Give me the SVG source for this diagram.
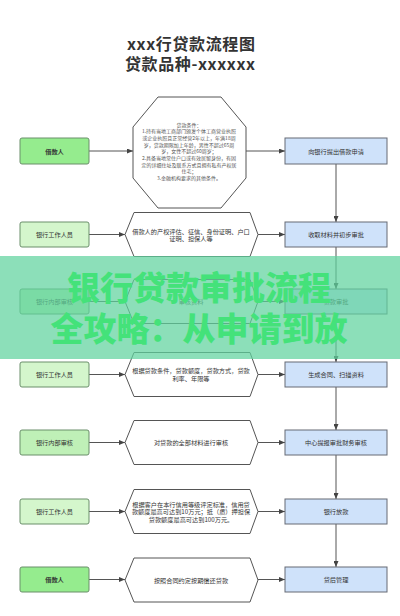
<svg xmlns="http://www.w3.org/2000/svg" xmlns:xlink="http://www.w3.org/1999/xlink" width="400" height="616" viewBox="0 0 400 616">
<style>
text{font-family:"Noto Sans CJK SC","Liberation Sans",sans-serif;}
.title{font-size:16px;font-weight:bold;fill:#333;text-anchor:middle;}
.lbl{font-size:6.2px;fill:#333;text-anchor:middle;dominant-baseline:central;}
.b{font-weight:bold;}
.small{font-size:5px;fill:#555;text-anchor:middle;dominant-baseline:central;}
.lbox{stroke:#6b8f6b;stroke-width:1;}
.g1{fill:#95ec8e;}
.g2{fill:#d4f6cc;}
.g3{fill:#bff0b7;}
.rbox{fill:#cfe2fa;stroke:#666a75;stroke-width:1;}
.shape{fill:#fff;stroke:#555;stroke-width:1;}
.con{stroke:#555;stroke-width:1;fill:none;marker-end:url(#arr);}
.wm{font-size:33px;font-weight:900;fill:#44e27a;text-anchor:middle;}
</style>
<defs>
<marker id="arr" markerWidth="6" markerHeight="5" refX="6" refY="2.5" orient="auto" markerUnits="userSpaceOnUse">
<path d="M0,0 L6,2.5 L0,5 z" fill="#444"/>
</marker>
<polygon id="hex" class="shape" points="125,0 134,-22 250,-22 258,0 250,22 134,22"/>
</defs>
<rect width="400" height="616" fill="#fff"/>

<g id="title">
<text class="title" x="191" y="50" textLength="128">xxx行贷款流程图</text>
<text class="title" x="190" y="70" textLength="130">贷款品种-xxxxxx</text>
</g>

<g id="connectors">
<line class="con" x1="89" y1="151" x2="133" y2="151"/>
<line class="con" x1="246" y1="151" x2="285" y2="151"/>
<line class="con" x1="89" y1="234.5" x2="125" y2="234.5"/>
<line class="con" x1="258" y1="234.5" x2="285" y2="234.5"/>
<line class="con" x1="89" y1="301.5" x2="125" y2="301.5"/>
<line class="con" x1="258" y1="301.5" x2="285" y2="301.5"/>
<line class="con" x1="89" y1="374.5" x2="125" y2="374.5"/>
<line class="con" x1="258" y1="374.5" x2="285" y2="374.5"/>
<line class="con" x1="89" y1="442.5" x2="125" y2="442.5"/>
<line class="con" x1="258" y1="442.5" x2="285" y2="442.5"/>
<line class="con" x1="89" y1="511.5" x2="125" y2="511.5"/>
<line class="con" x1="258" y1="511.5" x2="285" y2="511.5"/>
<line class="con" x1="89" y1="579.5" x2="125" y2="579.5"/>
<line class="con" x1="258" y1="579.5" x2="285" y2="579.5"/>
<line class="con" x1="336" y1="163" x2="336" y2="222"/>
<line class="con" x1="336" y1="247" x2="336" y2="289"/>
<line class="con" x1="336" y1="314" x2="336" y2="362"/>
<line class="con" x1="336" y1="387" x2="336" y2="430"/>
<line class="con" x1="336" y1="455" x2="336" y2="499"/>
<line class="con" x1="336" y1="524" x2="336" y2="567"/>
</g>

<!-- Row 1 -->
<g id="n-borrower1"><rect class="lbox g1" x="20" y="138" width="69" height="26" rx="2"/><text class="lbl b" x="54.5" y="151">借款人</text></g>
<g id="n-conditions">
<polygon class="shape" points="158,97 221,97 246,127 246,178 221,208 158,208 133,178 133,127"/>
<text class="small" x="189" y="124">贷款条件：</text>
<text class="small" x="189" y="130.7">1.持有当地工商部门颁发个体工商营业执照</text>
<text class="small" x="189" y="137.4">或企业执照且正常经营2年以上，年满18周</text>
<text class="small" x="189" y="144.1">岁，贷款期限加上年龄，男性不超过65周</text>
<text class="small" x="189" y="150.8">岁，女性不超过60周岁；</text>
<text class="small" x="189" y="157.5">2.具备当地常住户口或有效居留身份，有固</text>
<text class="small" x="189" y="164.2">定的详细住址及联系方式且拥有私有产权居</text>
<text class="small" x="189" y="170.9">住宅；</text>
<text class="small" x="189" y="177.6">3.金融机构要求的其他条件。</text>
</g>
<g id="n-apply"><rect class="rbox" x="285" y="138" width="102" height="26"/><text class="lbl" x="336" y="151">向银行提出借款申请</text></g>

<!-- Row 2 -->
<g id="n-staff1"><rect class="lbox g2" x="20" y="222" width="69" height="25" rx="2"/><text class="lbl" x="54.5" y="234.5">银行工作人员</text></g>
<g id="n-assess"><use xlink:href="#hex" y="234.5"/>
<text class="lbl" x="191" y="231">借款人的产权评估、征信、身份证明、户口</text>
<text class="lbl" x="191" y="238.5">证明、担保人等</text></g>
<g id="n-collect"><rect class="rbox" x="285" y="222" width="102" height="25"/><text class="lbl" x="336" y="234.5">收取材料并初步审批</text></g>

<!-- Row 3 -->
<g id="n-internal1"><rect class="lbox g3" x="20" y="289" width="69" height="25" rx="2"/><text class="lbl" x="54.5" y="301.5">银行内部审核</text></g>
<g id="n-review"><use xlink:href="#hex" y="301.5"/><text class="lbl" x="191" y="301.5">审核资料</text></g>
<g id="n-approve"><rect class="rbox" x="285" y="289" width="102" height="25"/><text class="lbl" x="336" y="301.5">贷款审批</text></g>

<!-- Row 4 -->
<g id="n-staff2"><rect class="lbox g2" x="20" y="362" width="69" height="25" rx="2"/><text class="lbl" x="54.5" y="374.5">银行工作人员</text></g>
<g id="n-terms"><use xlink:href="#hex" y="374.5"/>
<text class="lbl" x="191" y="370.5">根据贷款条件，贷款额度，贷款方式，贷款</text>
<text class="lbl" x="191" y="378">利率、年限等</text></g>
<g id="n-contract"><rect class="rbox" x="285" y="362" width="102" height="25"/><text class="lbl" x="336" y="374.5">生成合同、扫描资料</text></g>

<!-- Row 5 -->
<g id="n-internal2"><rect class="lbox g3" x="20" y="430" width="69" height="25" rx="2"/><text class="lbl" x="54.5" y="442.5">银行内部审核</text></g>
<g id="n-allreview"><use xlink:href="#hex" y="442.5"/><text class="lbl" x="191" y="442.5">对贷款的全部材料进行审核</text></g>
<g id="n-center"><rect class="rbox" x="285" y="430" width="102" height="25"/><text class="lbl" x="336" y="442.5">中心提报审批财务审核</text></g>

<!-- Row 6 -->
<g id="n-staff3"><rect class="lbox g2" x="20" y="499" width="69" height="25" rx="2"/><text class="lbl" x="54.5" y="511.5">银行工作人员</text></g>
<g id="n-limit"><use xlink:href="#hex" y="511.5"/>
<text class="lbl" x="191" y="504">根据客户在本行信用等级评定标准，信用贷</text>
<text class="lbl" x="191" y="511.5">款额度最高可达到10万元；抵（质）押担保</text>
<text class="lbl" x="191" y="519">贷款额度最高可达到100万元。</text></g>
<g id="n-loan"><rect class="rbox" x="285" y="499" width="102" height="25"/><text class="lbl" x="336" y="511.5">银行放款</text></g>

<!-- Row 7 -->
<g id="n-borrower2"><rect class="lbox g1" x="20" y="567" width="69" height="25" rx="2"/><text class="lbl b" x="54.5" y="579.5">借款人</text></g>
<g id="n-repay"><use xlink:href="#hex" y="580"/><text class="lbl" x="191" y="580">按照合同约定按期偿还贷款</text></g>
<g id="n-after"><rect class="rbox" x="285" y="567" width="102" height="25"/><text class="lbl" x="336" y="579.5">贷后管理</text></g>

<!-- watermark overlay -->
<g id="watermark">
<rect x="0" y="256" width="400" height="103" fill="#5fd39e" opacity="0.72"/>
<text class="wm" x="199" y="300">银行贷款审批流程</text>
<text class="wm" x="199" y="341">全攻略：从申请到放</text>
</g>
</svg>
